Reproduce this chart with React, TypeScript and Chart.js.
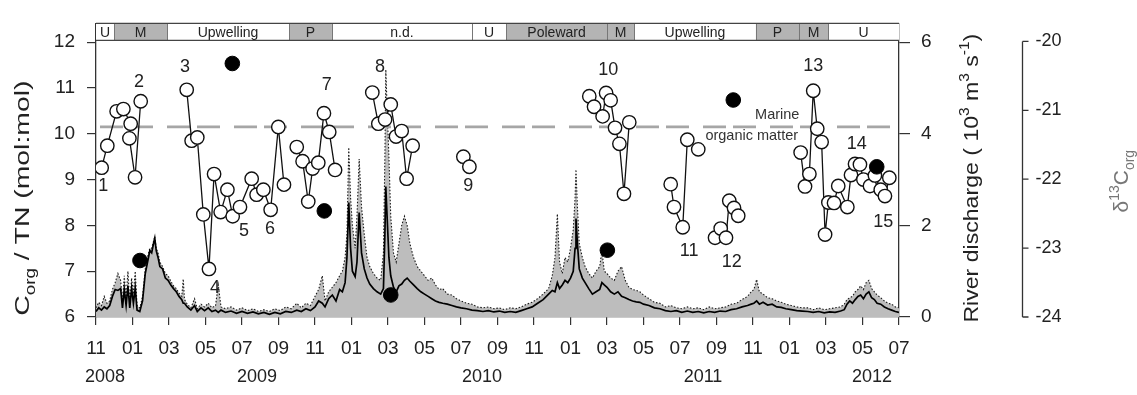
import React, { useEffect, useRef } from 'react';
import { Chart, registerables } from 'chart.js';

Chart.register(...registerables);

const FONT = '"Liberation Sans", Arial, Helvetica, sans-serif';

// ---- x axis: months since Nov 2008 ----
const xMin = 0;
const xMax = 44;
const monthNames = ['11', '12', '01', '02', '03', '04', '05', '06', '07', '08', '09', '10'];
const yearLabels = ['2008', '2009', '2010', '2011', '2012'];
const yearLabelMonths = [0.49, 8.82, 21.15, 33.26, 42.52];

// ---- y axes ----
const cnMin = 6;
const cnMax = 12.41;
const cnTickStep = 1;
const qMin = 0;
const qMax = 6.41;
const qTickStep = 2;
const d13Min = -24;
const d13Max = -19.738;
const d13Ticks = [-24, -23, -22, -21, -20];

// ---- hydrographic regime band ----
const bandStarts = [0, 0.99, 3.89, 10.58, 12.93, 20.6, 22.47, 28.0, 29.48, 36.16, 38.52, 40.11];
const bandEnds = [0.99, 3.89, 10.58, 12.93, 20.6, 22.47, 28.0, 29.48, 36.16, 38.52, 40.11, 44];
const bandLabels = ['U', 'M', 'Upwelling', 'P', 'n.d.', 'U', 'Poleward', 'M', 'Upwelling', 'P', 'M', 'U'];
const bandShaded = [false, true, false, true, false, false, true, true, false, true, true, false];

// ---- marine organic matter reference ----
const marineRatio = 10.15;
const marineLineMonths = [0.22, 44];

// ---- Corg/TN groups (open circles) ----
const cn1Months = [0.31, 0.62, 1.13, 1.5, 1.9, 1.83, 2.14, 2.45];
const cn1Values = [9.26, 9.74, 10.49, 10.54, 10.22, 9.9, 9.05, 10.71];
const cn2Months = [4.97, 5.24, 5.55, 5.88, 6.19, 6.47, 6.83, 7.2, 7.49, 7.89, 8.53, 8.8, 9.17, 9.57, 9.99, 10.3];
const cn2Values = [10.96, 9.85, 9.92, 8.24, 7.05, 9.12, 8.29, 8.78, 8.2, 8.4, 9.02, 8.67, 8.78, 8.34, 10.15, 8.89];
const cn3Months = [11.0, 11.32, 11.63, 11.87, 12.18, 12.49, 12.78, 13.1];
const cn3Values = [9.71, 9.4, 8.52, 9.24, 9.37, 10.45, 10.04, 9.21];
const cn4Months = [15.14, 15.47, 15.84, 16.15, 16.44, 16.75, 17.02, 17.35];
const cn4Values = [10.9, 10.22, 10.31, 10.64, 9.94, 10.06, 9.02, 9.74];
const cn5Months = [20.13, 20.46];
const cn5Values = [9.5, 9.28];
const cn6Months = [27.03, 27.29, 27.76, 27.95, 28.2, 28.44, 28.68, 28.93, 29.22];
const cn6Values = [10.82, 10.59, 10.38, 10.89, 10.73, 10.13, 9.78, 8.69, 10.25];
const cn7Months = [31.49, 31.67, 32.15, 32.4];
const cn7Values = [8.9, 8.4, 7.96, 9.87];
const cnLoneMonths = [33.0];
const cnLoneValues = [9.66];
const cn8Months = [33.92, 34.23, 34.52, 34.7, 34.96, 35.19];
const cn8Values = [7.73, 7.93, 7.73, 8.54, 8.38, 8.21];
const cn9Months = [38.61, 38.85, 39.09, 39.3, 39.52, 39.76, 39.95, 40.13, 40.44, 40.67, 41.17, 41.37, 41.59, 41.86, 42.05, 42.41, 42.68, 43.0, 43.23, 43.47];
const cn9Values = [9.59, 8.85, 9.12, 10.94, 10.11, 9.82, 7.8, 8.5, 8.49, 8.86, 8.4, 9.1, 9.34, 9.33, 9.0, 8.86, 9.09, 8.78, 8.64, 9.04];

// ---- d13C (filled circles) ----
const d13Months = [2.41, 7.47, 12.51, 16.15, 28.02, 34.92, 42.78];
const d13Values = [-23.18, -20.32, -22.46, -23.68, -23.03, -20.85, -21.82];

// ---- survey numbers ----
const surveyLabels = ['1', '2', '3', '4', '5', '6', '7', '8', '9', '10', '11', '12', '13', '14', '15'];
const surveyLabelMonths = [0.4, 2.35, 4.88, 6.52, 8.11, 9.53, 12.64, 15.56, 20.4, 28.07, 32.5, 34.83, 39.3, 41.68, 43.14];
const surveyLabelValues = [8.86, 11.13, 11.46, 6.63, 7.88, 7.93, 11.06, 11.45, 8.86, 11.4, 7.43, 7.19, 11.47, 9.78, 8.08];
const marineTextMonths = [37.33, 35.93];
const marineTextValues = [10.42, 9.95];
const marineTexts = ['Marine', 'organic matter'];

// ---- river discharge (10^3 m3 s-1) ----
const qMonths = [
  0.0, 0.15, 0.3, 0.45, 0.6, 0.75, 0.9, 1.05, 1.2, 1.35, 1.45, 1.55, 1.65, 1.75, 1.85, 1.95, 2.05, 2.15, 2.25, 2.4,
  2.55, 2.7, 2.85, 2.95, 3.05, 3.15, 3.22, 3.3, 3.4, 3.5, 3.65, 3.8, 3.95, 4.1, 4.25, 4.4, 4.55, 4.7, 4.78, 4.85,
  5.0, 5.2, 5.4, 5.55, 5.75, 5.95, 6.15, 6.35, 6.55, 6.7, 6.85, 7.1, 7.4, 7.7, 8.0, 8.3, 8.6, 8.9, 9.2, 9.5,
  9.8, 10.1, 10.4, 10.7, 11.0, 11.25, 11.5, 11.75, 12.0, 12.2, 12.4, 12.55, 12.75, 12.95, 13.15, 13.35, 13.5, 13.65, 13.75, 13.85,
  13.95, 14.05, 14.2, 14.3, 14.42, 14.55, 14.7, 14.85, 15.0, 15.2, 15.4, 15.6, 15.75, 15.83, 15.88, 15.95, 16.05, 16.15, 16.3, 16.45,
  16.6, 16.75, 16.9, 17.05, 17.2, 17.4, 17.6, 17.8, 18.0, 18.2, 18.4, 18.6, 18.8, 19.0, 19.25, 19.5, 19.75, 20.0, 20.3, 20.6,
  20.9, 21.2, 21.5, 21.8, 22.1, 22.4, 22.7, 23.0, 23.3, 23.6, 23.9, 24.2, 24.5, 24.8, 25.0, 25.15, 25.28, 25.4, 25.55, 25.7,
  25.85, 26.0, 26.15, 26.25, 26.3, 26.38, 26.48, 26.65, 26.8, 27.0, 27.2, 27.4, 27.6, 27.72, 27.85, 28.0, 28.2, 28.4, 28.6, 28.8,
  29.0, 29.2, 29.4, 29.6, 29.8, 30.0, 30.3, 30.6, 30.9, 31.2, 31.5, 31.8, 32.1, 32.4, 32.7, 33.0, 33.3, 33.6, 33.9, 34.2,
  34.5, 34.8, 35.1, 35.4, 35.7, 35.9, 36.05, 36.2, 36.35, 36.55, 36.8, 37.05, 37.3, 37.55, 37.8, 38.1, 38.4, 38.7, 39.0, 39.3,
  39.6, 39.9, 40.2, 40.5, 40.8, 41.0, 41.15, 41.3, 41.45, 41.6, 41.75, 41.9, 42.05, 42.2, 42.35, 42.5, 42.65, 42.8, 43.0, 43.2,
  43.4, 43.6, 43.8, 44.0,
];
const qMean = [
  0.12, 0.2, 0.15, 0.22, 0.18, 0.25, 0.45, 0.6, 0.58, 0.62, 0.2, 0.6, 0.25, 0.68, 0.2, 0.62, 0.3, 0.63, 0.15, 0.12,
  0.35, 0.95, 1.25, 1.45, 1.4, 1.6, 1.72, 1.45, 1.3, 1.1, 1.05, 0.85, 0.8, 0.7, 0.62, 0.55, 0.45, 0.38, 0.3, 0.3,
  0.22, 0.15, 0.25, 0.12, 0.2, 0.14, 0.2, 0.12, 0.15, 0.1, 0.15, 0.1, 0.13, 0.08, 0.12, 0.08, 0.11, 0.07, 0.1, 0.06,
  0.1, 0.07, 0.12, 0.1, 0.15, 0.12, 0.18, 0.14, 0.22, 0.35, 0.3, 0.22, 0.4, 0.48, 0.35, 0.6, 0.55, 0.75, 1.3, 2.5,
  1.5, 1.0, 0.88, 1.2, 2.28, 1.4, 1.05, 0.85, 0.72, 0.62, 0.55, 0.5, 0.62, 1.8, 2.85, 2.2, 1.3, 0.9, 0.65, 0.55,
  0.68, 0.72, 0.8, 0.85, 0.78, 0.7, 0.62, 0.55, 0.5, 0.45, 0.4, 0.35, 0.32, 0.3, 0.28, 0.25, 0.22, 0.2, 0.18, 0.15,
  0.14, 0.12, 0.14, 0.11, 0.13, 0.1, 0.12, 0.1, 0.14, 0.18, 0.22, 0.3, 0.38, 0.5, 0.58, 0.55, 0.75, 0.62, 0.7, 0.8,
  0.75, 0.85, 1.0, 1.5, 2.15, 1.6, 1.05, 0.85, 0.75, 0.62, 0.5, 0.55, 0.6, 0.75, 0.7, 0.65, 0.55, 0.5, 0.55, 0.45,
  0.42, 0.38, 0.35, 0.33, 0.32, 0.28, 0.25, 0.2, 0.18, 0.14, 0.12, 0.14, 0.1, 0.13, 0.1, 0.12, 0.09, 0.12, 0.1, 0.13,
  0.12, 0.16, 0.18, 0.22, 0.25, 0.28, 0.3, 0.35, 0.28, 0.32, 0.26, 0.28, 0.22, 0.21, 0.18, 0.16, 0.14, 0.13, 0.12, 0.1,
  0.12, 0.09, 0.11, 0.1, 0.13, 0.16, 0.28, 0.35, 0.3, 0.38, 0.45, 0.48, 0.4, 0.5, 0.55, 0.42, 0.38, 0.3, 0.28, 0.22,
  0.18, 0.15, 0.12, 0.1,
];
const qMax2 = [
  0.2, 0.32, 0.25, 0.45, 0.3, 0.35, 0.6, 0.75, 0.95, 0.8, 0.35, 0.9, 0.4, 1.0, 0.3, 0.85, 0.5, 1.0, 0.25, 0.2,
  0.45, 1.05, 1.35, 1.5, 1.5, 1.65, 1.76, 1.5, 1.4, 1.2, 1.1, 0.95, 0.9, 0.78, 0.68, 0.62, 0.52, 0.45, 0.83, 0.38,
  0.28, 0.2, 0.4, 0.18, 0.28, 0.22, 0.3, 0.2, 0.25, 0.7, 0.22, 0.18, 0.22, 0.15, 0.2, 0.14, 0.18, 0.12, 0.16, 0.12,
  0.18, 0.14, 0.22, 0.18, 0.3, 0.2, 0.3, 0.25, 0.45, 0.6, 0.9, 0.35, 0.55, 0.65, 0.75, 0.9, 1.0, 1.3, 1.8, 3.7,
  2.6, 2.0, 1.5, 2.2, 3.45, 2.4, 1.8, 1.3, 1.1, 0.95, 0.85, 0.8, 1.4, 3.5, 5.4, 4.6, 3.5, 2.2, 1.4, 1.2,
  1.6, 2.0, 2.2, 2.0, 1.6, 1.3, 1.1, 1.0, 0.9, 0.8, 0.85, 0.7, 0.6, 0.62, 0.5, 0.48, 0.4, 0.35, 0.3, 0.28,
  0.22, 0.2, 0.22, 0.18, 0.2, 0.16, 0.2, 0.18, 0.22, 0.28, 0.32, 0.4, 0.5, 0.62, 0.9, 1.3, 2.25, 1.2, 0.95, 1.3,
  1.2, 1.5, 1.9, 2.6, 3.22, 2.4, 1.6, 1.3, 1.1, 0.95, 0.85, 1.0, 1.1, 1.45, 1.0, 0.95, 0.85, 0.8, 1.0, 1.1,
  0.8, 0.65, 0.6, 0.58, 0.55, 0.48, 0.4, 0.32, 0.3, 0.22, 0.25, 0.2, 0.18, 0.22, 0.18, 0.2, 0.16, 0.22, 0.18, 0.2,
  0.22, 0.28, 0.3, 0.38, 0.45, 0.55, 0.6, 0.82, 0.55, 0.5, 0.42, 0.4, 0.35, 0.32, 0.28, 0.25, 0.22, 0.2, 0.2, 0.16,
  0.2, 0.16, 0.18, 0.2, 0.22, 0.28, 0.38, 0.42, 0.45, 0.55, 0.6, 0.68, 0.6, 0.75, 0.8, 0.62, 0.55, 0.48, 0.42, 0.35,
  0.3, 0.28, 0.22, 0.2,
];

const pts = (xs: number[], ys: number[]) => xs.map((x, i) => ({ x, y: ys[i] }));

type Part = { text: string; size: number; dy: number };

function drawRich(ctx: CanvasRenderingContext2D, parts: Part[], cx: number, cy: number, rot: number, stretch: number, color: string) {
  ctx.save();
  ctx.translate(cx, cy);
  ctx.rotate(rot);
  ctx.scale(stretch, 1);
  ctx.fillStyle = color;
  ctx.textBaseline = 'alphabetic';
  ctx.textAlign = 'left';
  let total = 0;
  const widths: number[] = [];
  for (const p of parts) {
    ctx.font = `${p.size}px ${FONT}`;
    const w = ctx.measureText(p.text).width;
    widths.push(w);
    total += w;
  }
  let x = -total / 2;
  const base = parts[0].size * 0.36;
  parts.forEach((p, i) => {
    ctx.font = `${p.size}px ${FONT}`;
    ctx.fillText(p.text, x, base + p.dy);
    x += widths[i];
  });
  ctx.restore();
}

const decorPlugin = {
  id: 'decor',
  afterDatasetsDraw(chart: any) {
    const { ctx, chartArea, scales } = chart;
    const xs = scales.x;
    const ys = scales.y;
    const top = chartArea.top;
    const bandH = 17;
    ctx.save();
    // regime band
    for (let i = 0; i < bandStarts.length; i++) {
      const x0 = xs.getPixelForValue(bandStarts[i]);
      const x1 = xs.getPixelForValue(bandEnds[i]);
      ctx.fillStyle = bandShaded[i] ? '#b4b4b4' : '#ffffff';
      ctx.fillRect(x0, top, x1 - x0, bandH);
      ctx.strokeStyle = '#777';
      ctx.lineWidth = 1;
      if (i > 0) {
        ctx.beginPath();
        ctx.moveTo(Math.round(x0) + 0.5, top);
        ctx.lineTo(Math.round(x0) + 0.5, top + bandH);
        ctx.stroke();
      }
      ctx.fillStyle = '#222';
      ctx.font = `14px ${FONT}`;
      ctx.textAlign = 'center';
      ctx.textBaseline = 'middle';
      ctx.fillText(bandLabels[i], (x0 + x1) / 2, top + bandH / 2 + 1);
    }
    ctx.strokeStyle = '#444';
    ctx.lineWidth = 1.3;
    ctx.beginPath();
    ctx.moveTo(chartArea.left, top + bandH);
    ctx.lineTo(chartArea.right, top + bandH);
    ctx.moveTo(chartArea.left, top);
    ctx.lineTo(chartArea.right, top);
    ctx.stroke();

    // survey numbers
    ctx.fillStyle = '#222';
    ctx.font = `18px ${FONT}`;
    ctx.textAlign = 'center';
    ctx.textBaseline = 'middle';
    surveyLabels.forEach((t, i) => {
      ctx.fillText(t, xs.getPixelForValue(surveyLabelMonths[i]), ys.getPixelForValue(surveyLabelValues[i]));
    });
    ctx.font = `14.5px ${FONT}`;
    ctx.fillStyle = '#333';
    marineTexts.forEach((t, i) => {
      ctx.fillText(t, xs.getPixelForValue(marineTextMonths[i]), ys.getPixelForValue(marineTextValues[i]));
    });
    ctx.restore();
  },
  afterDraw(chart: any) {
    const { ctx, chartArea, scales } = chart;
    const xs = scales.x;
    const yd = scales.yd;
    ctx.save();
    // year labels
    ctx.fillStyle = '#222';
    ctx.font = `18px ${FONT}`;
    ctx.textAlign = 'center';
    ctx.textBaseline = 'middle';
    yearLabels.forEach((t, i) => {
      ctx.fillText(t, xs.getPixelForValue(yearLabelMonths[i]), chartArea.bottom + 60);
    });

    // d13C axis
    const ax = chartArea.right + 123.5;
    ctx.strokeStyle = '#333';
    ctx.lineWidth = 1.3;
    ctx.beginPath();
    ctx.moveTo(ax, yd.getPixelForValue(d13Ticks[0]));
    ctx.lineTo(ax, yd.getPixelForValue(d13Ticks[d13Ticks.length - 1]));
    d13Ticks.forEach((v) => {
      const py = yd.getPixelForValue(v);
      ctx.moveTo(ax, py);
      ctx.lineTo(ax + 6, py);
    });
    ctx.stroke();
    ctx.fillStyle = '#222';
    ctx.font = `18px ${FONT}`;
    ctx.textAlign = 'left';
    ctx.textBaseline = 'middle';
    d13Ticks.forEach((v) => {
      ctx.fillText(String(v), ax + 13, yd.getPixelForValue(v));
    });
    ctx.restore();

    // axis titles
    const midY = (chartArea.top + chartArea.bottom) / 2;
    drawRich(ctx, [
      { text: 'C', size: 21, dy: 0 },
      { text: 'org', size: 14, dy: 6 },
      { text: ' / TN (mol:mol)', size: 21, dy: 0 },
    ], 21, midY + 28, -Math.PI / 2, 1.35, '#222');
    drawRich(ctx, [
      { text: 'River discharge ( 10', size: 21, dy: 0 },
      { text: '3', size: 14, dy: -9 },
      { text: ' m', size: 21, dy: 0 },
      { text: '3', size: 14, dy: -9 },
      { text: ' s', size: 21, dy: 0 },
      { text: '-1', size: 14, dy: -9 },
      { text: ')', size: 21, dy: 0 },
    ], chartArea.right + 71, midY + 8, -Math.PI / 2, 1.1, '#222');
    drawRich(ctx, [
      { text: 'δ', size: 21, dy: 0 },
      { text: '13', size: 14, dy: -9 },
      { text: 'C', size: 21, dy: 0 },
      { text: 'org', size: 14, dy: 6 },
    ], chartArea.right + 221, midY + 11, -Math.PI / 2, 1.0, '#777');
  },
};

export default function App() {
  const ref = useRef<HTMLCanvasElement | null>(null);
  useEffect(() => {
    document.body.style.margin = '0';
    const canvas = ref.current;
    if (!canvas) return;
    const openStyle = {
      type: 'scatter' as const,
      showLine: true,
      yAxisID: 'y',
      borderColor: '#111',
      borderWidth: 1.3,
      pointRadius: 6.7,
      pointBorderWidth: 1.4,
      pointBackgroundColor: '#ffffff',
      pointBorderColor: '#111',
      order: 5,
    };
    const groups = [
      pts(cn1Months, cn1Values), pts(cn2Months, cn2Values), pts(cn3Months, cn3Values),
      pts(cn4Months, cn4Values), pts(cn5Months, cn5Values), pts(cn6Months, cn6Values),
      pts(cn7Months, cn7Values), pts(cnLoneMonths, cnLoneValues), pts(cn8Months, cn8Values),
      pts(cn9Months, cn9Values),
    ];
    const chart = new Chart(canvas, {
      type: 'scatter',
      data: {
        datasets: [
          {
            type: 'line',
            data: pts(qMonths, qMax2),
            yAxisID: 'y2',
            borderColor: '#1a1a1a',
            borderWidth: 1.1,
            borderDash: [1.5, 1.8],
            backgroundColor: '#bdbdbd',
            fill: 'origin',
            pointRadius: 0,
            tension: 0,
            order: 10,
          } as any,
          {
            type: 'line',
            data: pts(qMonths, qMean),
            yAxisID: 'y2',
            borderColor: '#000',
            borderWidth: 1.7,
            fill: false,
            pointRadius: 0,
            tension: 0,
            order: 9,
          } as any,
          {
            type: 'line',
            data: pts(marineLineMonths, [marineRatio, marineRatio]),
            yAxisID: 'y',
            borderColor: '#a6a6a6',
            borderWidth: 2.6,
            borderDash: [23, 7, 23, 14],
            pointRadius: 0,
            fill: false,
            order: 8,
          } as any,
          ...groups.map((g) => ({ ...openStyle, data: g })),
          {
            type: 'scatter',
            data: pts(d13Months, d13Values),
            yAxisID: 'yd',
            pointRadius: 7.3,
            pointBackgroundColor: '#000',
            pointBorderColor: '#000',
            showLine: false,
            order: 1,
          } as any,
        ],
      },
      options: {
        animation: false,
        responsive: false,
        devicePixelRatio: 1,
        events: [],
        layout: { padding: { top: 8, left: 0, right: 0, bottom: 0 } },
        plugins: { legend: { display: false }, tooltip: { enabled: false }, title: { display: false } },
        scales: {
          x: {
            type: 'linear',
            min: xMin,
            max: xMax,
            ticks: {
              stepSize: 2,
              includeBounds: false,
              autoSkip: false,
              maxRotation: 0,
              padding: 12,
              color: '#222',
              font: { family: FONT, size: 19 },
              callback: (v: any) => monthNames[((Math.round(v) % 12) + 12) % 12],
            },
            grid: { drawOnChartArea: false, tickLength: 8, color: '#333', lineWidth: 1.2 },
            border: { color: '#333', width: 1.3 },
            afterFit: (s: any) => { s.height = 78; },
          },
          y: {
            type: 'linear',
            position: 'left',
            min: cnMin,
            max: cnMax,
            ticks: {
              stepSize: cnTickStep,
              includeBounds: false,
              padding: 12,
              color: '#222',
              font: { family: FONT, size: 19 },
            },
            grid: { drawOnChartArea: false, tickLength: 9, color: '#333', lineWidth: 1.2 },
            border: { color: '#333', width: 1.3 },
            afterFit: (s: any) => { s.width = 96; },
          },
          y2: {
            type: 'linear',
            position: 'right',
            min: qMin,
            max: qMax,
            ticks: {
              stepSize: qTickStep,
              includeBounds: false,
              padding: 11,
              color: '#222',
              font: { family: FONT, size: 19 },
            },
            grid: { drawOnChartArea: false, tickLength: 11, color: '#333', lineWidth: 1.2 },
            border: { color: '#333', width: 1.3 },
            afterFit: (s: any) => { s.width = 238; },
          },
          yd: {
            type: 'linear',
            position: 'right',
            display: false,
            min: d13Min,
            max: d13Max,
          },
        },
      } as any,
      plugins: [decorPlugin],
    });
    return () => chart.destroy();
  }, []);
  return (
    <div style={{ position: 'fixed', left: 0, top: 0, width: 1137, height: 395, background: '#fff' }}>
      <canvas ref={ref} width={1137} height={395} style={{ width: 1137, height: 395, display: 'block' }} />
    </div>
  );
}
